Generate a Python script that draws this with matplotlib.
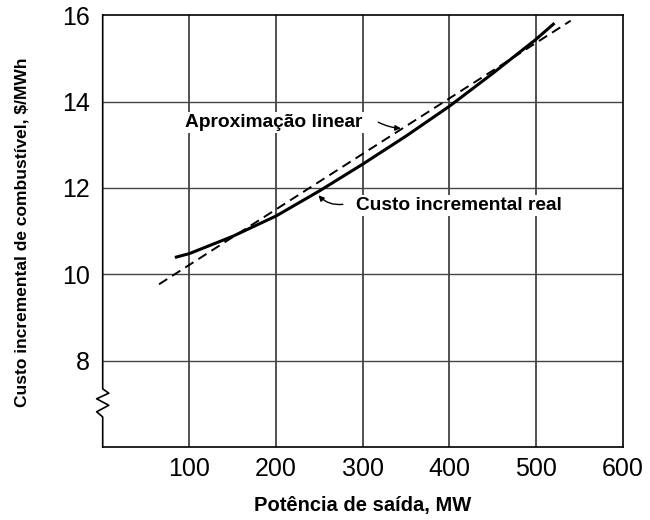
import matplotlib
matplotlib.use('Agg')
import matplotlib.pyplot as plt

# curva real
real_mw = [85, 100, 150, 200, 250, 300, 350, 400, 450, 500, 520]
real_cost = [10.40, 10.48, 10.88, 11.35, 11.93, 12.55, 13.20, 13.89, 14.65, 15.44, 15.79]

# aproximacao linear
lin_mw = [65, 540]
lin_cost = [9.77, 15.87]

x_ticks = [100, 200, 300, 400, 500, 600]
y_ticks = [8, 10, 12, 14, 16]

plt.rcParams['font.family'] = ['Liberation Sans', 'DejaVu Sans']

fig = plt.figure(figsize=(6.5, 5.2), dpi=100)
ax = fig.add_axes([0.158, 0.140, 0.800, 0.831])
ax.set_xlim(0, 600)
ax.set_ylim(6, 16)

for x in x_ticks[:-1]:
    ax.axvline(x, color='#222222', lw=1.1, zorder=1)
for y in y_ticks[:-1]:
    ax.axhline(y, color='#444444', lw=1.0, zorder=1)

ax.plot(real_mw, real_cost, color='black', lw=2.2, zorder=3)
ax.plot(lin_mw, lin_cost, color='black', lw=1.4, ls=(0, (5, 3)), zorder=3)

ax.set_xticks(x_ticks)
ax.set_yticks(y_ticks)
ax.tick_params(length=0, labelsize=18, pad=7)
ax.tick_params(axis='y', pad=9)

for s in ['top', 'right', 'bottom']:
    ax.spines[s].set_linewidth(1.2)
ax.spines['left'].set_visible(False)

# eixo y com quebra
zz_x = [0, 0, -7, 7, -7, 7, 0, 0]
zz_y = [6, 6.7, 6.82, 6.97, 7.12, 7.25, 7.35, 16]
ax.plot(zz_x, zz_y, color='black', lw=1.2, clip_on=False, zorder=4)

bbox = dict(facecolor='white', edgecolor='none', pad=1.5)
ax.text(95, 13.52, 'Aproximação linear', fontsize=13.8, fontweight='bold',
        va='center', ha='left', bbox=bbox, zorder=5)
ax.text(292, 11.60, 'Custo incremental real', fontsize=13.8, fontweight='bold',
        va='center', ha='left', bbox=bbox, zorder=5)

arrow = dict(arrowstyle='-|>', color='black', lw=1.0, mutation_scale=8,
             shrinkA=0, shrinkB=0)
ax.annotate('', xy=(344, 13.38), xytext=(318, 13.52),
            arrowprops=dict(arrow, connectionstyle='arc3,rad=0.1'), zorder=5)
ax.annotate('', xy=(249, 11.83), xytext=(277, 11.62),
            arrowprops=dict(arrow, connectionstyle='arc3,rad=-0.25'), zorder=5)

ax.set_xlabel('Potência de saída, MW', fontsize=14.5, fontweight='bold')
ax.xaxis.label.set_va('center')
ax.xaxis.set_label_coords(0.5, -0.134)
ax.set_ylabel('Custo incremental de combustível, $/MWh', fontsize=12.5,
              fontweight='bold')
ax.yaxis.label.set_va('center')
ax.yaxis.set_label_coords(-0.156, 0.498)

fig.savefig('out.png', dpi=100)
